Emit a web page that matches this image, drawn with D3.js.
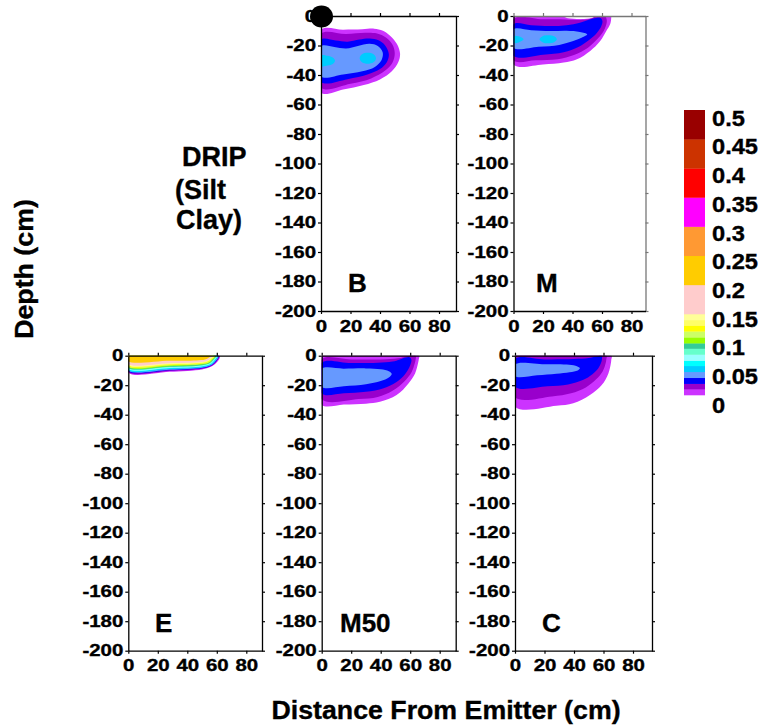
<!DOCTYPE html>
<html><head><meta charset="utf-8">
<script src="https://cdn.jsdelivr.net/npm/d3@7"></script>
<style>
body{margin:0;background:#fff}
svg{display:block}
text{font-family:"Liberation Sans",Arial,sans-serif;font-weight:bold;fill:#000;stroke:#000;stroke-width:0.35px}
</style>
</head><body>
<svg id="c" width="763" height="726"></svg>
<script>
// ---------- DATA ----------
// colour bands (from lowest to highest value) and their break values
const bandColors = ["#cc33ff","#9900cc","#0000ff","#6699ff","#00ccff","#00ffff","#99ffff","#66ffcc","#33cc99","#99ff00","#ccff66","#ffff00","#ffff66","#ffff99","#ffcccc","#ffcc00","#ff9933","#ff00ff","#ff0000","#cc3300","#990000"];
const bandBreaks = [0,0.011,0.021,0.032,0.043,0.054,0.064,0.075,0.086,0.096,0.107,0.118,0.129,0.139,0.15,0.2,0.25,0.3,0.35,0.4,0.45,0.5];
const legendValues = [0.5,0.45,0.4,0.35,0.3,0.25,0.2,0.15,0.1,0.05,0];
const legendLabels = ["0.5","0.45","0.4","0.35","0.3","0.25","0.2","0.15","0.1","0.05","0"];
const depthTicks = [0,-20,-40,-60,-80,-100,-120,-140,-160,-180,-200];
const depthTickLabels = ["0","-20","-40","-60","-80","-100","-120","-140","-160","-180","-200"];
const distTicks = [0,20,40,60,80];
const distTickLabels = ["0","20","40","60","80"];
const panelNames = ["B","M","E","M50","C"];

// contour regions: [distance (cm), depth (cm)] outlines, band index into bandColors
const regionsB = [
 {band:0, pts:[[0,-9.3],[15,-9.3],[28,-9],[36,-8.6],[42,-10],[47,-13.5],[51.5,-19],[53.6,-25.5],[52.5,-31],[48,-37.5],[40,-43],[29,-46.8],[15,-49.8],[0,-52]]},
 {band:1, pts:[[0,-12],[17,-12.2],[30,-11.3],[38,-11.8],[44,-14.5],[48.5,-19.5],[50,-25.5],[48.5,-31.5],[43.5,-37],[34,-42.3],[20,-46],[0,-48.6]]},
 {band:2, pts:[[0,-16],[10,-16.6],[18,-17.4],[26,-16],[33,-15.3],[39,-16.5],[43.5,-20],[46,-26],[44.5,-31.5],[40,-36],[32,-39.5],[18,-42.8],[0,-44.7]]},
 {band:3, pts:[[0,-20.5],[9,-21],[17,-22],[25,-20.3],[33,-18.8],[38.5,-20.3],[41.8,-24.5],[41,-30],[36.5,-34.5],[28,-37.5],[15,-39.6],[0,-41]]},
 {band:4, pts:[[0,-26.7],[4.5,-27],[8,-28.2],[9.5,-30.3],[8,-32.5],[4.5,-33.6],[0,-33.9]]},
 {band:4, pts:[[26.2,-28.6],[27.8,-25.9],[31.6,-24.9],[35.6,-25.9],[37.3,-28.6],[35.6,-31.3],[31.6,-32.3],[27.8,-31.3]]}
];
const regionsM = [
 {band:0, pts:[[0,-0.5],[34,-0.5],[37,-1.6],[53,-1.6],[56,-0.2],[60,0],[66,0],[66.2,-2],[65.5,-5.6],[63,-10],[58.8,-17],[52,-23.7],[43,-29.4],[34,-31.6],[20,-32.8],[0,-32.8]]},
 {band:1, pts:[[0,-2],[20,-2.2],[35,-2.3],[48,-2.6],[53,-1.5],[56,-0.2],[62,0],[63.2,-2.5],[63,-5.5],[61.5,-9.5],[57,-15.5],[50.5,-21.5],[41,-26.5],[30,-29.3],[15,-30],[0,-30]]},
 {band:2, pts:[[0,-5.6],[12,-6.3],[25,-6.8],[36,-6.2],[45,-4.5],[51,-2.6],[56,-1.3],[59,-1.3],[60.3,-3.5],[59.5,-7],[56.5,-11.5],[51,-16.5],[44,-21],[34,-24.6],[20,-26.3],[0,-27]]},
 {band:3, pts:[[0,-9],[12,-9.6],[25,-10.2],[36,-10],[45,-10.8],[50,-12.4],[46.5,-14.6],[40.5,-17],[31,-19.6],[17,-20.8],[0,-21.5]]},
 {band:4, pts:[[0,-13.6],[3.5,-13.8],[6.8,-15.8],[3.5,-17.9],[0,-18.3]]},
 {band:4, pts:[[17.6,-15.8],[20,-13.6],[23.5,-13.1],[27.5,-13.8],[29.4,-15.8],[27.5,-17.8],[23.5,-18.5],[20,-17.9]]}
];
const regionsE = [
 {band:0,  pts:[[0,0],[0,-11.5],[28,-10.9],[50,-9.3],[56,-7.5],[60,-4.5],[62,0]]},
 {band:1,  pts:[[0,0],[0,-11.0],[28,-10.4],[50,-8.9],[56,-7.1],[59.7,-4.2],[61.6,0]]},
 {band:2,  pts:[[0,0],[0,-10.5],[28,-9.9],[50,-8.5],[56,-6.8],[59.4,-4],[61.3,0]]},
 {band:3,  pts:[[0,0],[0,-10.1],[28,-9.5],[50,-8.1],[56,-6.5],[59.1,-3.8],[61,0]]},
 {band:4,  pts:[[0,0],[0,-9.7],[28,-9.1],[50,-7.8],[56,-6.2],[58.8,-3.6],[60.7,0]]},
 {band:5,  pts:[[0,0],[0,-9.3],[28,-8.7],[50,-7.4],[55.8,-5.9],[58.5,-3.4],[60.4,0]]},
 {band:6,  pts:[[0,0],[0,-8.9],[28,-8.3],[50,-7.1],[55.6,-5.6],[58.2,-3.2],[60.1,0]]},
 {band:7,  pts:[[0,0],[0,-8.5],[28,-7.9],[50,-6.7],[55.4,-5.3],[57.9,-3],[59.8,0]]},
 {band:8,  pts:[[0,0],[0,-8.1],[28,-7.5],[50,-6.4],[55.2,-5],[57.6,-2.8],[59.5,0]]},
 {band:9,  pts:[[0,0],[0,-7.7],[28,-7.1],[50,-6],[55,-4.7],[57.3,-2.6],[59.2,0]]},
 {band:10, pts:[[0,0],[0,-7.3],[28,-6.7],[50,-5.7],[54.8,-4.4],[57,-2.4],[58.9,0]]},
 {band:11, pts:[[0,0],[0,-6.9],[28,-6.3],[50,-5.3],[54.6,-4.1],[56.7,-2.2],[58.6,0]]},
 {band:12, pts:[[0,0],[0,-6.5],[28,-5.9],[50,-5],[54.4,-3.8],[56.4,-2],[58.3,0]]},
 {band:13, pts:[[0,0],[0,-6.1],[28,-5.5],[50,-4.6],[54.2,-3.5],[56.1,-1.8],[58,0]]},
 {band:14, pts:[[0,0],[0,-5.7],[28,-5.1],[50,-4.3],[54,-3.2],[55.8,-1.6],[57.7,0]]},
 {band:15, pts:[[0,0],[0,-3.8],[28,-3.5],[46,-3.2],[52,-2.6],[54.5,-1.4],[55.5,0]]}
];
const regionsM50 = [
 {band:0, pts:[[0,0],[66,0],[65.8,-2.5],[65.3,-5.2],[63.3,-12],[58.8,-18.8],[50.8,-26.7],[39.5,-31.2],[30,-32.5],[15,-33],[0,-33.2]]},
 {band:1, pts:[[0,-2.5],[20,-2.6],[40,-2.5],[52,-1.8],[58,-0.3],[63.7,0],[63.7,-2.5],[63,-5.5],[61,-11],[56,-17.5],[48,-23.8],[38,-28],[25,-29.4],[0,-29.6]]},
 {band:2, pts:[[0,-4.8],[20,-5],[38,-4.8],[48,-4],[53,-2.5],[57,-1.2],[59.5,-1],[60.8,-2.5],[60,-6.5],[56.5,-12.5],[50.5,-18],[42,-22],[30,-24.5],[15,-25.4],[0,-25.6]]},
 {band:3, pts:[[0,-9],[15,-8.8],[30,-8.6],[40,-9.2],[45.5,-10.5],[47.5,-12.4],[45.5,-14.8],[40,-17.2],[30,-19.4],[15,-20.7],[0,-21]]}
];
const regionsC = [
 {band:0, pts:[[0,0],[65.5,0],[65.3,-2.5],[65,-5.2],[63.3,-12],[58.8,-19.9],[50.8,-26.7],[39.5,-32.3],[28,-34],[0,-34.6]]},
 {band:1, pts:[[0,0],[62,0],[61.9,-2.5],[61.5,-5],[59.5,-10.5],[55,-16],[48,-21.5],[38,-25.5],[25,-27.6],[0,-28.2]]},
 {band:2, pts:[[0,-2.2],[20,-2.5],[40,-2.3],[50,-1.6],[55,-0.5],[58.8,0],[59,-2],[58.3,-5],[56.5,-8.5],[52.5,-12.5],[46,-16.5],[36,-19.5],[22,-20.7],[0,-21]]},
 {band:3, pts:[[0,-6],[20,-5.8],[35,-6],[41,-6.8],[44,-8.5],[42.5,-10],[37,-11.2],[28,-12.2],[15,-13.2],[0,-13.8]]}
];

// ---------- LAYOUT ----------
const PX_PER_CM = 1.475;
const layout = [
 {regions:regionsB,   left:321,   top:16,    w:135, h:295, lx:348, ly:292, axis:"#000"},
 {regions:regionsM,   left:513.5, top:16,    w:132, h:295, lx:536, ly:292, axis:"#777"},
 {regions:regionsE,   left:128.3, top:355.7, w:133.7, h:295, lx:155, ly:632, axis:"#000"},
 {regions:regionsM50, left:321.7, top:355.7, w:134, h:295, lx:340, ly:632, axis:"#000"},
 {regions:regionsC,   left:515,   top:355.7, w:137, h:295, lx:542, ly:632, axis:"#000"}
];
const TICK_SX = 1.24;

const svg = d3.select("#c");

layout.forEach((p, i) => {
  const x = d3.scaleLinear().domain([0, p.w / PX_PER_CM]).range([p.left, p.left + p.w]);
  const y = d3.scaleLinear().domain([0, -200]).range([p.top, p.top + p.h]);
  const clipId = "clip" + i;
  svg.append("clipPath").attr("id", clipId).append("rect")
     .attr("x", p.left).attr("y", p.top).attr("width", p.w).attr("height", p.h);
  const line = d3.line().x(d => x(d[0])).y(d => y(d[1])).curve(d3.curveCatmullRomClosed.alpha(0.5));
  svg.append("g").attr("clip-path", `url(#${clipId})`)
    .selectAll("path").data(p.regions).join("path")
    .attr("d", d => line(d.pts)).attr("fill", d => bandColors[d.band]);

  const styleAxis = (g, color) => {
    g.selectAll("path.domain").attr("stroke", color).attr("stroke-width", 1.3);
    g.selectAll(".tick line").attr("stroke", color).attr("stroke-width", 1.2);
    g.selectAll("text").attr("font-size", 16.5).attr("font-weight", "bold")
      .attr("font-family", '"Liberation Sans", Arial, sans-serif').attr("fill", "#000")
      .attr("transform", `scale(${TICK_SX},1)`);
  };
  // top & right
  svg.append("g").attr("transform", `translate(0,${p.top})`)
    .call(d3.axisTop(x).tickValues(distTicks).tickSize(3).tickSizeOuter(0).tickFormat(""))
    .call(g => styleAxis(g, p.axis));
  svg.append("g").attr("transform", `translate(${p.left + p.w},0)`)
    .call(d3.axisRight(y).tickValues(depthTicks).tickSize(3).tickSizeOuter(0).tickFormat(""))
    .call(g => styleAxis(g, p.axis));
  // left & bottom
  svg.append("g").attr("transform", `translate(${p.left},0)`)
    .call(d3.axisLeft(y).tickValues(depthTicks).tickSize(3).tickPadding(1).tickSizeOuter(0)
          .tickFormat((d, k) => depthTickLabels[k]))
    .call(g => styleAxis(g, "#000"));
  svg.append("g").attr("transform", `translate(0,${p.top + p.h})`)
    .call(d3.axisBottom(x).tickValues(distTicks).tickSize(3).tickPadding(6).tickSizeOuter(0)
          .tickFormat((d, k) => distTickLabels[k]))
    .call(g => styleAxis(g, "#000"));

  svg.append("text").attr("x", p.lx).attr("y", p.ly).attr("font-size", 26).text(panelNames[i]);

  if (i === 0) {
    svg.append("ellipse").attr("cx", x(0) + 0.5).attr("cy", y(0) + 0.5)
       .attr("rx", 11.5).attr("ry", 11).attr("fill", "#000");
  }
});

// title
const titleLines = ["DRIP", "(Silt", "Clay)"];
const titleX = [182, 175, 176];
const titleY = [166, 199, 229];
svg.selectAll("text.title").data(titleLines).join("text").attr("class", "title")
  .attr("x", (d, k) => titleX[k]).attr("y", (d, k) => titleY[k])
  .attr("font-size", 27).text(d => d);

// axis titles
svg.append("text").attr("text-anchor", "middle").attr("font-size", 25)
  .attr("transform", "translate(446,719) scale(1.07,1)").text("Distance From Emitter (cm)");
svg.append("text").attr("text-anchor", "middle").attr("font-size", 25)
  .attr("transform", "translate(33,269) rotate(-90) scale(1.07,1)").text("Depth (cm)");

// legend
const ly = d3.scaleLinear().domain([0, 0.15, 0.5]).range([395, 314, 110]);
const lyLabel = d3.scaleLinear().domain([0.5, 0]).range([118, 405]);
const legendBands = bandColors.map((c, k) => ({c, lo: bandBreaks[k], hi: bandBreaks[k + 1]}));
svg.append("g").selectAll("rect").data(legendBands).join("rect")
  .attr("x", 684).attr("width", 21)
  .attr("y", d => ly(d.hi)).attr("height", d => ly(d.lo) - ly(d.hi) + 0.3)
  .attr("fill", d => d.c);
svg.append("g").selectAll("text").data(legendValues).join("text")
  .attr("transform", d => `translate(712,${lyLabel(d)}) scale(1.1,1)`)
  .attr("dy", "0.36em").attr("font-size", 21.5)
  .text((d, k) => legendLabels[k]);
</script>
</body></html>
